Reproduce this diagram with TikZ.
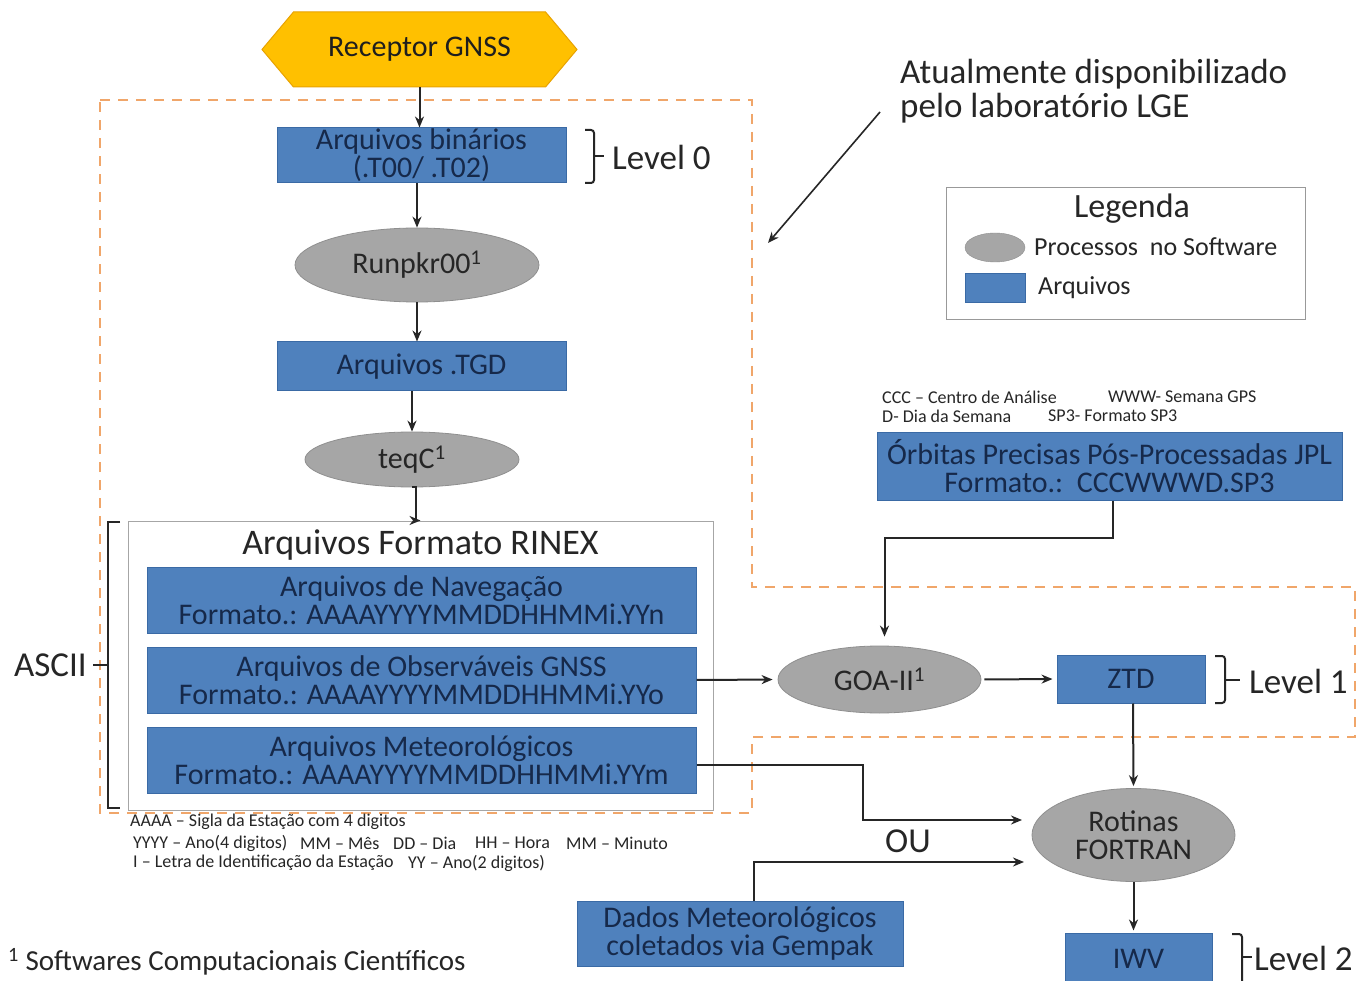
\documentclass[tikz,border=0pt]{standalone}
\usepackage{fontspec}
\setmainfont{Carlito}
\usetikzlibrary{shapes.geometric,shapes.symbols,arrows.meta,calc}
\definecolor{fblue}{HTML}{4F81BD}
\definecolor{bblue}{HTML}{3A6AA5}
\definecolor{tblue}{HTML}{16294A}
\definecolor{fgray}{HTML}{A6A6A6}
\definecolor{bgray}{HTML}{8F8F8F}
\definecolor{dorange}{HTML}{F0A66A}
\definecolor{gold}{HTML}{FFC000}
\definecolor{goldb}{HTML}{E8A200}
\definecolor{txt}{HTML}{262626}
\newcommand{\myfs}[2]{\fontsize{#1}{#2}\selectfont}
\begin{document}
\begin{tikzpicture}[x=1pt,y=-1pt,
  filebox/.style={draw=bblue,line width=1pt,fill=fblue,text=tblue,inner sep=0pt,align=center,font=\myfs{30}{28}},
  proc/.style={ellipse,draw=bgray,line width=0.8pt,fill=fgray,text=txt,inner sep=0pt,align=center,font=\myfs{30}{28}},
  arr/.style={-{Stealth[length=11pt,width=9pt]},line width=2pt,draw=black!85},
  plain/.style={text=txt,inner sep=0pt},
  brk/.style={line width=2pt,draw=black!85},
  small/.style={plain,anchor=west,font=\myfs{18}{20}},
  region/.style={draw=dorange,line width=1.8pt,dash pattern=on 10pt off 8pt}]
\useasboundingbox (0,0) rectangle (1358,981);
\fill[white] (0,0) rectangle (1358,981);

% dashed region
\draw[region] (100,100) -- (752,100) -- (752,587) -- (1355,587) -- (1355,737) -- (752,737) -- (752,813) -- (100,813) -- cycle;

% hexagon
\node[signal, signal to=west and east, signal pointer angle=100, draw=goldb, line width=1pt, fill=gold, text=txt!80!black, minimum width=315pt, minimum height=75pt, inner sep=0pt, font=\myfs{30}{28}] (hex) at (419.5,49.5) {Receptor GNSS};

\node[filebox, minimum width=289pt, minimum height=55pt] (bin) at (421.5,155.5) {Arquivos binários\\(.T00/ .T02)};
\node[proc, minimum width=244pt, minimum height=74pt] (runpkr) at (417,265) {Runpkr00\textsuperscript{1}};
\node[filebox, minimum width=289pt, minimum height=49pt] (tgd) at (421.5,366.5) {Arquivos .TGD};
\node[proc, minimum width=214pt, minimum height=55pt] (teqc) at (412,459.5) {teqC\textsuperscript{1}};

\node[draw=black!35, line width=1pt, fill=white, minimum width=585pt, minimum height=289pt, inner sep=0pt] (rinex) at (420.5,665.5) {};
\node[plain, font=\myfs{36}{34}] (rinext) at (420.5,545) {Arquivos Formato RINEX};
\node[filebox, minimum width=549pt, minimum height=66pt] (nav) at (421.5,600) {Arquivos de Navegação\\Formato.: AAAAYYYYMMDDHHMMi.YYn};
\node[filebox, minimum width=549pt, minimum height=66pt] (obs) at (421.5,680) {Arquivos de Observáveis GNSS\\Formato.: AAAAYYYYMMDDHHMMi.YYo};
\node[filebox, minimum width=549pt, minimum height=66pt] (met) at (421.5,760) {Arquivos Meteorológicos\\Formato.: AAAAYYYYMMDDHHMMi.YYm};

% ASCII bracket
\draw[brk] (120,522) -- (108,522) -- (108,808) -- (120,808);
\draw[brk] (108,665) -- (93,665);
\node[plain, anchor=east, font=\myfs{35}{34}] (ascii) at (87,665) {ASCII};

% Level 0 brace
\draw[brk, rounded corners=3pt] (585,130) -- (594,130) -- (594,183) -- (585,183);
\draw[brk] (594,156) -- (604,156);
\node[plain, anchor=west, font=\myfs{35}{34}] (lv0) at (612,157) {Level 0};

% annotation
\node[plain, anchor=west, align=left, font=\myfs{35}{34}] (atual) at (900,91) {Atualmente disponibilizado\\pelo laboratório LGE};
\coordinate (a1) at (880,112);
\coordinate (a2) at (768,243);
\draw[arr, line width=1.6pt] (a1) -- (a2);

% legend
\node[draw=black!40, line width=1pt, minimum width=359pt, minimum height=132pt, inner sep=0pt] (leg) at (1125.5,254) {};
\node[plain, font=\myfs{34}{34}] (legt) at (1132,209) {Legenda};
\node[ellipse, draw=bgray, fill=fgray, minimum width=60pt, minimum height=29pt, inner sep=0pt] (lege) at (995,247.5) {};
\node[draw=bblue, fill=fblue, minimum width=60pt, minimum height=29pt, inner sep=0pt] (legr) at (995,287.5) {};
\node[plain, anchor=west, font=\myfs{26}{28}] (legpt) at (1034,247) {Processos\ \ no Software};
\node[plain, anchor=west, font=\myfs{26}{28}] (legat) at (1038,288) {Arquivos};

% orbit notes
\node[small] (n1) at (882,397) {CCC – Centro de Análise};
\node[small] (n2) at (1108,397) {WWW- Semana GPS};
\node[small] (n3) at (882,416) {D- Dia da Semana};
\node[small] (n4) at (1048,416) {SP3- Formato SP3};
\node[filebox, minimum width=465pt, minimum height=67pt] (orb) at (1109.5,466.5) {Órbitas Precisas Pós-Processadas JPL\\Formato.:\ \ CCCWWWD.SP3};

\node[proc, minimum width=203pt, minimum height=67pt] (goa) at (879.5,679.5) {GOA-II\textsuperscript{1}};
\node[filebox, minimum width=148pt, minimum height=48pt] (ztd) at (1131,679) {ZTD};
\draw[brk, rounded corners=3pt] (1215,656) -- (1225,656) -- (1225,703) -- (1215,703);
\draw[brk] (1225,680) -- (1240,680);
\node[plain, anchor=west, font=\myfs{35}{34}] (lv1) at (1249,681) {Level 1};

\node[proc, minimum width=203pt, minimum height=93pt] (rot) at (1133.5,835) {Rotinas\\FORTRAN};
\node[plain, font=\myfs{35}{34}] (ou) at (908,841) {OU};
\node[filebox, minimum width=326pt, minimum height=65pt] (dados) at (740,933.5) {Dados Meteorológicos\\coletados via Gempak};
\node[filebox, minimum width=147pt, minimum height=52pt] (iwv) at (1138.5,959) {IWV};
\draw[brk, rounded corners=3pt] (1232,934) -- (1242,934) -- (1242,990);
\draw[brk] (1242,957) -- (1252,957);
\node[plain, anchor=west, font=\myfs{35}{34}] (lv2) at (1254,958) {Level 2};

% footnotes
\node[small] (f1) at (130,822) {AAAA – Sigla da Estação com 4 digitos};
\node[small] (f2a) at (133,843) {YYYY – Ano(4 digitos)};
\node[small] (f2b) at (300,843) {MM – Mês};
\node[small] (f2c) at (393,843) {DD – Dia};
\node[small] (f2d) at (475,843) {HH – Hora};
\node[small] (f2e) at (566,843) {MM – Minuto};
\node[small] (f3a) at (133,863) {I – Letra de Identificação da Estação};
\node[small] (f3b) at (408,863) {YY – Ano(2 digitos)};
\node[plain, anchor=west, font=\myfs{29}{30}] (soft) at (8,962) {\textsuperscript{1} Softwares Computacionais Científicos};

% connectors
\coordinate (r1) at (1022,820);
\coordinate (r2) at (1024,862);
\draw[arr] (hex.south) -- (hex.south |- bin.north);
\draw[arr] (runpkr.north |- bin.south) -- (runpkr.north);
\draw[arr] (runpkr.south) -- (runpkr.south |- tgd.north);
\draw[arr] (tgd.south -| teqc.north) -- (teqc.north);
\draw[arr] (teqc.south) -- ++(4,0) |- (rinex.north);
\draw[arr, shorten >=5pt] (obs.east) -- (goa.west);
\draw[arr, shorten <=3pt, shorten >=4pt] (goa.east) -- (ztd.west);
\draw[arr, shorten >=9pt] ($(orb.south)+(3.5,0)$) -- ++(0,37) -| ($(goa.north)+(5,0)$);
\draw[arr, shorten >=2pt] ($(ztd.south)+(2,0)$) -- (rot.north);
\draw[arr] ($(met.east)+(0,5)$) -- ++(166,0) |- (r1);
\draw[arr] ($(dados.north)+(14,0)$) |- (r2);
\draw[arr, shorten >=2pt] (rot.south) -- (rot.south |- iwv.north);
\end{tikzpicture}
\end{document}
